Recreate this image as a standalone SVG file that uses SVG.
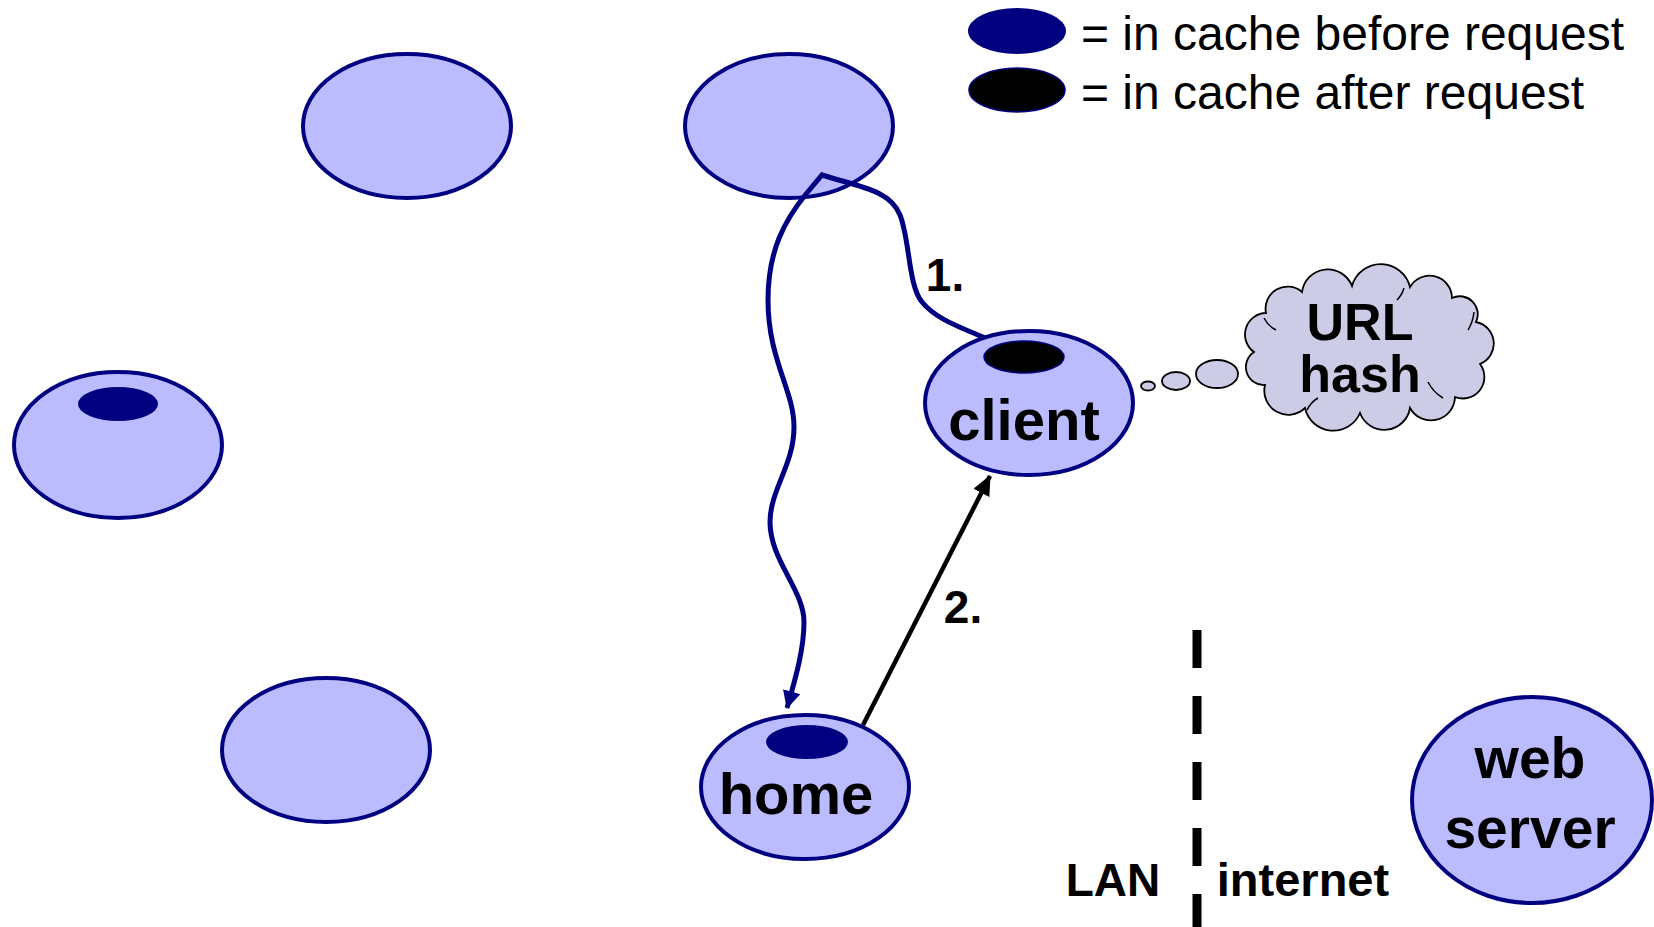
<svg xmlns="http://www.w3.org/2000/svg" width="1654" height="927" viewBox="0 0 1654 927">
<defs>
<style>
.node{fill:#BBBBFF;stroke:#000080;stroke-width:4}
.before{fill:#000080;stroke:none}
.after{fill:#000000;stroke:#000080;stroke-width:1.5}
.lbl{font-family:"Liberation Sans",Arial,sans-serif;font-weight:bold;fill:#000;text-anchor:middle}
.leg{font-family:"Liberation Sans",Arial,sans-serif;font-size:48px;fill:#000}
.bub{fill:#CCCCE6;stroke:#000;stroke-width:1.8}
</style>
<marker id="arrNavy" markerUnits="userSpaceOnUse" markerWidth="20" markerHeight="20" refX="17" refY="9" orient="auto">
<path d="M0,0 L18,9 L0,18 z" fill="#000080"/>
</marker>
<marker id="arrBlack" markerUnits="userSpaceOnUse" markerWidth="22" markerHeight="20" refX="19" refY="9" orient="auto">
<path d="M0,0 L20,9 L0,18 z" fill="#000"/>
</marker>
</defs>
<rect width="1654" height="927" fill="#fff"/>

<g id="legend">
<ellipse class="before" cx="1017" cy="31" rx="49" ry="23"/>
<text class="leg" x="1081" y="50">= in cache before request</text>
<ellipse class="after" cx="1017" cy="90" rx="48" ry="22"/>
<text class="leg" x="1081" y="109">= in cache after request</text>
</g>

<g id="node-topleft"><ellipse class="node" cx="407" cy="126" rx="104" ry="72"/></g>
<g id="node-topmid"><ellipse class="node" cx="789" cy="126" rx="104" ry="72"/></g>
<g id="node-left"><ellipse class="node" cx="118" cy="445" rx="104" ry="73"/><ellipse class="before" cx="118" cy="404" rx="40" ry="17"/></g>
<g id="node-bottomleft"><ellipse class="node" cx="326" cy="750" rx="104" ry="72"/></g>
<g id="node-home"><ellipse class="node" cx="805" cy="787" rx="104" ry="72"/><ellipse class="before" cx="807" cy="742" rx="41" ry="17"/><text class="lbl" x="796" y="814" font-size="58">home</text></g>
<g id="node-client"><ellipse class="node" cx="1029" cy="403" rx="104" ry="72"/><ellipse class="after" cx="1024" cy="357" rx="40" ry="16"/><text class="lbl" x="1024" y="440" font-size="58">client</text></g>
<g id="node-webserver"><ellipse class="node" cx="1532" cy="800" rx="120" ry="103"/><text class="lbl" x="1530" y="778" font-size="57">web</text><text class="lbl" x="1530" y="848" font-size="57">server</text></g>

<g id="thought">
<ellipse class="bub" cx="1148" cy="386" rx="7" ry="4.5"/>
<ellipse class="bub" cx="1176" cy="381" rx="14" ry="9"/>
<ellipse class="bub" cx="1217" cy="374" rx="21" ry="14"/>
<path class="bub" d="M1254,352 A21.5,21.5 0 0 1 1266,313 A22,22 0 0 1 1302,292 A26,26 0 0 1 1352,286 A30,30 0 0 1 1410,287 A22.5,22.5 0 0 1 1452,298 A18,18 0 0 1 1476,322 A22,22 0 0 1 1480,364 A21.5,21.5 0 0 1 1455,397 A24,24 0 0 1 1410,408 A26,26 0 0 1 1360,413 A29,29 0 0 1 1305,408 A24,24 0 0 1 1265,385 A18,18 0 0 1 1254,352 Z"/>
<path d="M1264,318 Q1268,326 1276,330 M1468,330 Q1473,322 1474,312 M1443,398 Q1433,392 1428,382 M1307,410 Q1311,402 1318,398 M1404,288 Q1402,295 1397,300" fill="none" stroke="#000" stroke-width="1.5"/>
<text class="lbl" x="1360" y="340" font-size="52">URL</text>
<text class="lbl" x="1360" y="392" font-size="52">hash</text>
</g>

<g id="divider">
<line x1="1197" y1="630" x2="1197" y2="927" stroke="#000" stroke-width="9" stroke-dasharray="38 28"/>
<text class="lbl" x="1113" y="896" font-size="46">LAN</text>
<text class="lbl" x="1303" y="896" font-size="47">internet</text>
</g>

<g id="connectors">
<path d="M985,338 C955,325 935,318 922,302 C908,285 910,240 900,215 C890,190 860,187 822,175 L806,194 C785,220 768,250 768,300 C768,360 794,390 794,427 C794,465 770,490 770,522 C770,560 804,590 804,622 C804,650 795,680 787,708" fill="none" stroke="#000080" stroke-width="5" stroke-linejoin="miter" marker-end="url(#arrNavy)"/>
<line x1="863" y1="725" x2="990" y2="476" stroke="#000" stroke-width="4.5" marker-end="url(#arrBlack)"/>
<text class="lbl" x="945" y="291" font-size="46">1.</text>
<text class="lbl" x="963" y="623" font-size="46">2.</text>
</g>
</svg>
